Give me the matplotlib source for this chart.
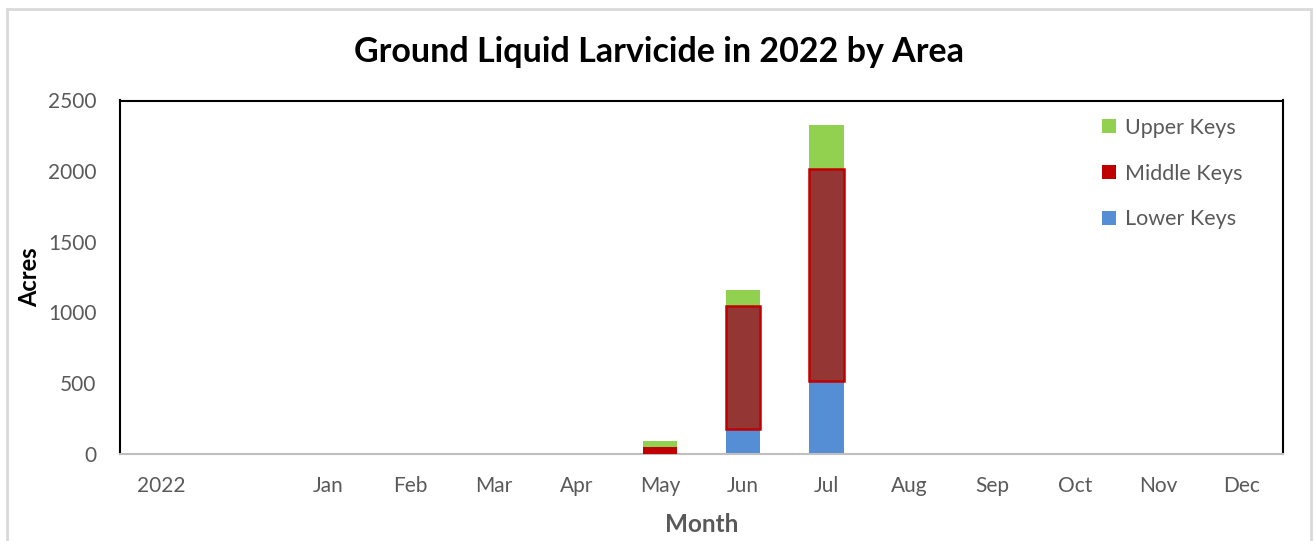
import matplotlib
matplotlib.use("Agg")
import matplotlib.pyplot as plt
from matplotlib.patches import Rectangle, Patch
import numpy as np

plt.rcParams['font.family'] = ['Lato', 'DejaVu Sans']

categories = ["2022", "", "Jan", "Feb", "Mar", "Apr", "May", "Jun", "Jul",
              "Aug", "Sep", "Oct", "Nov", "Dec"]
lower_keys = [0, 0, 0, 0, 0, 0, 0, 170, 513, 0, 0, 0, 0, 0]
middle_keys = [0, 0, 0, 0, 0, 0, 47, 877, 1504, 0, 0, 0, 0, 0]
upper_keys = [0, 0, 0, 0, 0, 0, 40, 111, 306, 0, 0, 0, 0, 0]
series_names = ["Lower Keys", "Middle Keys", "Upper Keys"]

c_lower = "#558ED5"
c_middle = "#C00000"
c_middle_dark = "#943634"
c_upper = "#92D050"

fig = plt.figure(figsize=(13.14, 5.41), dpi=100)
ax = fig.add_axes([120/1314, 1-453.5/541, (1283-120)/1314, (453.5-100.5)/541])

x = np.arange(len(categories))
lower = np.array(lower_keys, dtype=float)
middle = np.array(middle_keys, dtype=float)
upper = np.array(upper_keys, dtype=float)
w = 0.42

ax.bar(x, lower, width=w, color=c_lower, linewidth=0, zorder=2)
mid_face = [c_middle_dark if v > 500 else c_middle for v in middle]
mid_lw = [1.8 if v > 500 else 0 for v in middle]
ax.bar(x, middle, width=w, bottom=lower, color=mid_face, edgecolor=c_middle,
       linewidth=mid_lw, zorder=3)
ax.bar(x, upper, width=w, bottom=lower + middle, color=c_upper, linewidth=0, zorder=2)

ax.set_xlim(-0.5, len(categories) - 0.5)
ax.set_ylim(0, 2500)
ax.set_yticks(np.arange(0, 2501, 500))
ax.set_xticks(x)
ax.set_xticklabels(categories)

for s in ['left', 'top', 'right']:
    ax.spines[s].set_color('black')
    ax.spines[s].set_linewidth(1.5)
ax.spines['bottom'].set_color('#BFBFBF')
ax.spines['bottom'].set_linewidth(1.5)
ax.tick_params(axis='both', length=0, labelsize=15, labelcolor='#595959')
ax.tick_params(axis='x', pad=16)
ax.tick_params(axis='y', pad=17)

fig.text(0.5015, 1-52/541, "Ground Liquid Larvicide in 2022 by Area",
         ha='center', va='center', fontsize=24.5, fontweight='bold', color='black')
fig.text(30/1314, 1-277/541, "Acres", rotation=90, ha='center', va='center',
         fontsize=17, fontweight='bold', color='black')
fig.text(702/1314, 1-524/541, "Month", ha='center', va='center',
         fontsize=17.5, fontweight='bold', color='#595959')

handles = [Patch(facecolor=c_upper, label=series_names[2]),
           Patch(facecolor=c_middle, label=series_names[1]),
           Patch(facecolor=c_lower, label=series_names[0])]
leg = ax.legend(handles=handles, loc='upper left', bbox_to_anchor=(0.828, 1.006),
                frameon=False, fontsize=15.5, labelspacing=1.2, handlelength=0.65,
                handleheight=0.65, handletextpad=0.4)
for t in leg.get_texts():
    t.set_color('#595959')

fig.add_artist(Rectangle((7/1314, -0.05), (1311-7)/1314, 1.05 - 9/541,
                         transform=fig.transFigure, fill=False,
                         edgecolor='#D9D9D9', linewidth=2))

fig.savefig("out.png", dpi=100)
